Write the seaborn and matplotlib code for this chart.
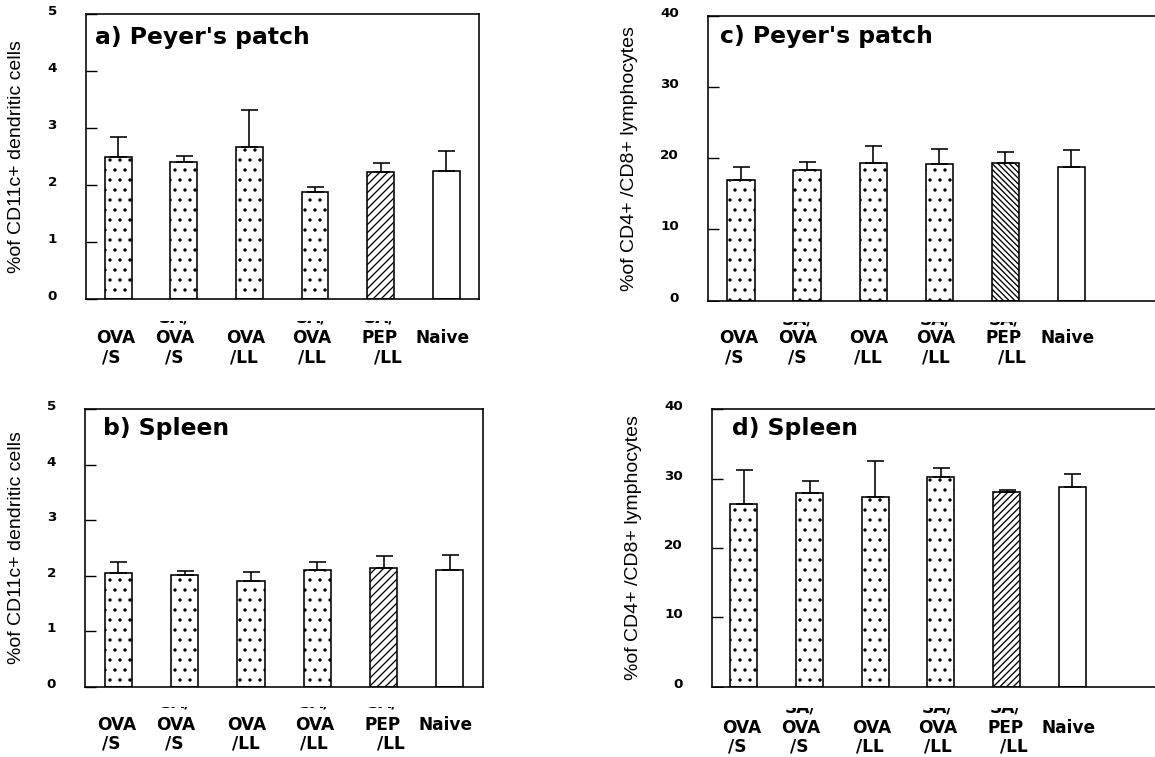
import matplotlib
matplotlib.use('Agg')
import matplotlib.pyplot as plt
import matplotlib.transforms as mtransforms
from matplotlib.patches import Rectangle
import seaborn as sns

# groups, split into the label lines printed under each bar
groups = ['OVA/S', 'SA/OVA/S', 'OVA/LL', 'SA/OVA/LL', 'SA/PEP/LL', 'Naive']
label_top = ['', 'SA/', '', 'SA/', 'SA/', '']          # cut off in the original
label_mid = ['OVA', 'OVA', 'OVA', 'OVA', 'PEP', 'Naive']
label_bot = ['/S', '/S', '/LL', '/LL', '/LL', '']

# a) Peyer's patch, CD11c+ dendritic cells
pp_dc = [2.50, 2.40, 2.67, 1.87, 2.22, 2.25]
pp_dc_err = [0.35, 0.11, 0.65, 0.09, 0.16, 0.34]
# b) Spleen, CD11c+ dendritic cells
sp_dc = [2.05, 2.02, 1.90, 2.11, 2.14, 2.10]
sp_dc_err = [0.20, 0.06, 0.17, 0.14, 0.22, 0.28]
# c) Peyer's patch, CD4+/CD8+ lymphocytes
pp_ly = [16.9, 18.3, 19.3, 19.2, 19.3, 18.7]
pp_ly_err = [1.9, 1.1, 2.4, 2.1, 1.6, 2.4]
# d) Spleen, CD4+/CD8+ lymphocytes
sp_ly = [26.3, 27.9, 27.4, 30.3, 28.1, 28.8]
sp_ly_err = [4.9, 1.7, 5.1, 1.2, 0.3, 1.8]

DPI = 120
W, H = 1155, 757
# small horizontal nudges (pixels) of the label lines, as typeset in the original
mid_dx = [-2, -9, -4, -3, -1, -4]
bot_dx = [-7, -10, -5, -3, 7, 0]


def px(v):
    # pixels -> points
    return v * 72 / DPI


sns.set_theme(style='white')
plt.rcParams['font.family'] = ['DejaVu Sans']
plt.rcParams['hatch.linewidth'] = 0.8
plt.rcParams['hatch.color'] = 'black'

fig = plt.figure(figsize=(W / DPI, H / DPI), dpi=DPI)


def panel(rect, vals, errs, ymax, diag, title, title_xy, xlim, offs, ylabel, ylabel_x):
    ax = fig.add_axes(rect)
    hatches = ['..', '..', '..', '..', diag, '']
    sns.barplot(x=groups, y=vals, color='white', edgecolor='black', linewidth=px(1.6),
                width=0.41, saturation=1, errorbar=None, ax=ax)
    for p, h in zip(ax.patches, hatches):
        p.set_hatch(h)
    ax.errorbar(range(len(groups)), vals, yerr=[[0] * len(vals), errs], fmt='none',
                ecolor='black', elinewidth=px(1.6), capsize=px(8.5), capthick=px(1.6))
    ax.set_xlim(*xlim)
    ax.set_ylim(0, ymax)
    ax.set_yticks([ymax * i / 5 for i in range(6)] if ymax == 5 else range(0, 41, 10))
    ax.set_xticks(range(len(groups)))
    ax.set_xticklabels([])
    ax.set_xlabel('')
    ax.set_ylabel('')
    for s in ax.spines.values():
        s.set_color('black')
        s.set_linewidth(px(1.6))
    ax.tick_params(axis='y', direction='in', length=px(10.5), width=px(1.4), left=True,
                   pad=px(29), labelsize=px(13.5), labelcolor='black', color='black')
    ax.tick_params(axis='x', length=0)
    for lab in ax.get_yticklabels():
        lab.set_fontweight('bold')
        lab.set_transform(lab.get_transform() +
                          mtransforms.ScaledTranslation(0, 4 / DPI, fig.dpi_scale_trans))

    # group labels, placed by baseline (pixels below the bottom of the axes)
    bottom_px = H - rect[1] * H
    sa_off, clip_off, mid_off, bot_off = offs
    trans = mtransforms.blended_transform_factory(ax.transData, fig.transFigure)
    clip_y = (H - bottom_px - clip_off) / H
    clip = mtransforms.TransformedBbox(
        mtransforms.Bbox.from_extents(0, 0, 1, clip_y), fig.transFigure)
    for i in range(len(groups)):
        lines = [(label_top[i], sa_off, mid_dx[i]), (label_mid[i], mid_off, mid_dx[i]),
                 (label_bot[i], bot_off, bot_dx[i])]
        for txt, off, dx in lines:
            if not txt:
                continue
            tr = trans + mtransforms.ScaledTranslation(dx / DPI, 0, fig.dpi_scale_trans)
            t = ax.text(i, (H - bottom_px - off) / H, txt, transform=tr, ha='center',
                        va='baseline', fontsize=px(17), fontweight='bold', color='black')
            if off == sa_off:
                t.set_clip_on(True)
                t.set_clip_box(clip)
    # blank band under the axes, as in the scanned original
    top_y = (H - bottom_px - 1.5) / H
    fig.add_artist(Rectangle((rect[0], clip_y), rect[2], top_y - clip_y,
                             transform=fig.transFigure, facecolor='white',
                             edgecolor='none', zorder=5))

    ax.text(title_xy[0], title_xy[1], title, transform=ax.transAxes, ha='left', va='center',
            fontsize=px(23.5), fontweight='bold', color='black')
    fig.text(ylabel_x / W, rect[1] + rect[3] / 2, ylabel, rotation=90, ha='center',
             va='center', fontsize=px(19.5), family='Liberation Sans', color='black')
    return ax


dc_label = '%of CD11c+ dendritic cells'
ly_label = '%of CD4+ /CD8+ lymphocytes'

panel([86 / W, (H - 299) / H, 393 / W, 285 / H], pp_dc, pp_dc_err, 5, '/////',
      "a) Peyer's patch", (0.023, 0.919), (-0.49, 5.5), (23.3, 22.0, 44.3, 63.7),
      dc_label, 17)
panel([85 / W, (H - 687) / H, 398 / W, 278 / H], sp_dc, sp_dc_err, 5, '/////',
      'b) Spleen', (0.045, 0.931), (-0.505, 5.5), (20.6, 19.6, 42.6, 61.6),
      dc_label, 17)
panel([708 / W, (H - 300.7) / H, 472 / W, 285 / H], pp_ly, pp_ly_err, 40, '\\\\\\\\\\\\\\',
      "c) Peyer's patch", (0.025, 0.926), (-0.5, 6.65), (23.3, 21.3, 42.6, 62.0),
      ly_label, 630)
panel([711.7 / W, (H - 686.7) / H, 468.3 / W, 277.4 / H], sp_ly, sp_ly_err, 40, '//////',
      'd) Spleen', (0.043, 0.931), (-0.49, 6.64), (25.6, 21.5, 46.6, 65.0),
      ly_label, 633)

fig.savefig('out.png', dpi=DPI)
